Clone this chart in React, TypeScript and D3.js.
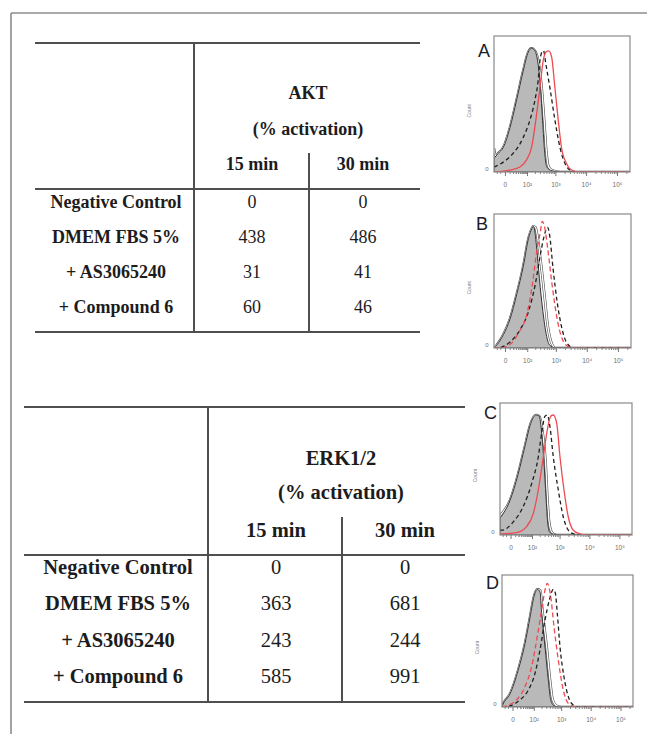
import React, { useEffect, useRef } from "react";
import * as d3 from "d3";

// table contents
const rowLabels = ["Negative Control", "DMEM FBS 5%", "+ AS3065240", "+ Compound 6"];
const timeLabels = ["15 min", "30 min"];
const aktValues15 = [0, 438, 31, 60];
const aktValues30 = [0, 486, 41, 46];
const erkValues15 = [0, 363, 243, 585];
const erkValues30 = [0, 681, 244, 991];

// flow histograms
const panelLetters = ["A", "B", "C", "D"];
const xTicks = [0, 100, 1000, 10000, 100000];
const xTickLabels = ["0", "10²", "10³", "10⁴", "10⁵"];

// [fluorescence, count as % of mode]
const grayA = [[-30, 11], [-16, 15], [-3, 20], [11, 36], [33, 58], [70, 82], [112, 97], [150, 100], [199, 98], [260, 87], [315, 68], [370, 42], [440, 15], [520, 4], [760, 1], [1410, 0], [262144, 0]];
const solidA = [[-30, 19], [-24, 13], [-16, 15], [-3, 20], [11, 36], [33, 58], [70, 82], [112, 97], [150, 100], [199, 98], [275, 87], [345, 68], [420, 42], [505, 15], [600, 4], [850, 1], [1500, 0], [262144, 0]];
const dashA = [[-30, 4], [-3, 8], [20, 15], [70, 28], [130, 42], [199, 58], [260, 74], [300, 90], [352, 97], [400, 98], [482, 87], [657, 68], [964, 42], [1410, 20], [2055, 7], [2990, 1.6], [5000, 0], [262144, 0]];
const redA = [[-30, 0], [11, 1.6], [49, 4], [97, 10], [150, 20], [215, 42], [300, 68], [390, 90], [482, 97], [600, 98], [750, 93], [964, 68], [1240, 42], [1580, 20], [2300, 7], [3400, 1.6], [6300, 0], [262144, 0]];

const grayB = [[-30, 0], [-20, 2.5], [-3, 11], [11, 24], [33, 44], [70, 68], [112, 90], [150, 98], [170, 100], [185, 98], [225, 82], [280, 57], [370, 30], [482, 11], [620, 2.5], [964, 0], [262144, 0]];
const solidB = [[-30, 0], [-20, 2.5], [-3, 11], [11, 24], [33, 44], [70, 68], [112, 90], [150, 98], [170, 100], [203, 99], [300, 74], [416, 44], [535, 19], [700, 5], [964, 0], [262144, 0]];
const dashB = [[-30, 0], [-20, 0], [11, 5], [49, 15], [112, 30], [199, 52], [300, 76], [390, 90], [535, 99], [620, 93], [810, 65], [1100, 38], [1580, 16], [2300, 4], [3800, 0], [262144, 0]];
const redB = [[-30, 0], [-11, 0], [11, 3], [40, 12], [97, 28], [150, 49], [225, 79], [300, 95], [352, 104], [416, 100], [535, 82], [750, 52], [1100, 24], [1580, 8], [2640, 1], [5000, 0], [262144, 0]];

const grayC = [[-30, 14], [-1, 29], [19, 51], [48, 74], [88, 93], [144, 100], [192, 99], [236, 85], [286, 60], [337, 32], [388, 10], [467, 2], [696, 0.5], [1100, 0], [262144, 0]];
const solidC = [[-30, 16], [-1, 29], [19, 51], [48, 74], [88, 93], [144, 100], [192, 99], [257, 85], [328, 60], [375, 32], [441, 10], [549, 2], [800, 0], [262144, 0]];
const dashC = [[-30, 4], [-23, 4], [5.5, 11], [40, 24], [97, 43], [176, 65], [236, 85], [311, 99], [375, 100], [467, 90], [608, 65], [903, 37.5], [1336, 15], [1970, 4], [2900, 1], [4000, 0], [262144, 0]];
const redC = [[-30, 1], [-23, 1], [14, 2], [58, 7], [113, 18], [176, 37.5], [270, 65], [375, 87.5], [494, 99], [608, 100], [797, 93], [1032, 65], [1411, 37.5], [1970, 15], [2900, 4], [4862, 1], [8000, 0], [262144, 0]];

const grayD = [[-30, 0], [-27, 1.7], [-5, 11], [13.5, 31], [39, 53], [69, 75], [102, 92], [139, 98], [176, 96], [204, 78], [271, 50], [356, 22.5], [434, 6], [566, 1], [800, 0], [262144, 0]];
const solidD = [[-30, 0], [-27, 1.7], [-5, 11], [13.5, 31], [39, 53], [69, 75], [102, 92], [139, 98], [180, 97], [223, 78], [312, 50], [410, 22.5], [510, 6], [703, 1], [1000, 0], [262144, 0]];
const dashD = [[-30, 0], [-5, 1], [19, 6], [57, 14], [112, 28], [176, 47.5], [271, 72.5], [387, 89], [535, 98], [629, 95], [737, 78], [914, 50], [1253, 25], [1755, 8.6], [2593, 1.7], [4000, 0], [262144, 0]];
const redD = [[-30, 0], [-13.6, 1], [9, 6], [39, 17], [82, 34], [139, 59], [204, 81], [271, 97.5], [328, 103], [434, 92], [566, 67], [799, 39], [1186, 14], [1755, 3], [3377, 0], [262144, 0]];

const serif = "'Liberation Serif', 'Times New Roman', serif";
const sans = "'Liberation Sans', Arial, 'DejaVu Sans', sans-serif";
const ink = "#1c1c1c";

function App() {
    const ref = useRef(null);

    useEffect(() => {
        document.body.style.margin = "0";
        drawChart();
    }, []);

    function drawChart() {
        const svg = d3.select(ref.current);
        svg.selectAll("*").remove();

        // outer frame (only top and left edges are visible)
        svg.append("line").attr("x1", 11).attr("y1", 13).attr("x2", 647).attr("y2", 13)
            .style("stroke", "#8c8c8c").style("stroke-width", 1.6);
        svg.append("line").attr("x1", 11).attr("y1", 13).attr("x2", 11).attr("y2", 734)
            .style("stroke", "#8c8c8c").style("stroke-width", 1.6);

        const tables = [
            {
                title: "AKT", v15: aktValues15, v30: aktValues30, fontSize: 18,
                left: 35, right: 420, top: 43, headRule: 189, bottom: 332, divider: 194, subDivider: 309, subTop: 153,
                titleX: 308, titleY: 99, subY: 135, timeY: 170, cols: [116, 252, 363], rowY: [208, 313]
            },
            {
                title: "ERK1/2", v15: erkValues15, v30: erkValues30, fontSize: 20.5,
                left: 24, right: 465, top: 407, headRule: 555, bottom: 702, divider: 208, subDivider: 342, subTop: 517,
                titleX: 341, titleY: 465, subY: 499, timeY: 537, cols: [118, 276, 405], rowY: [574, 683]
            }
        ];

        tables.forEach(t => {
            const g = svg.append("g");
            const rowScale = d3.scaleLinear().domain([0, rowLabels.length - 1]).range(t.rowY);
            const col = d3.scaleOrdinal().domain(["label", "15", "30"]).range(t.cols);
            const rule = (x1, y1, x2, y2) => g.append("line")
                .attr("x1", x1).attr("y1", y1).attr("x2", x2).attr("y2", y2)
                .style("stroke", "#4f4f4f").style("stroke-width", 2);
            rule(t.left, t.top, t.right, t.top);
            rule(t.left, t.headRule, t.right, t.headRule);
            rule(t.left, t.bottom, t.right, t.bottom);
            rule(t.divider, t.top, t.divider, t.bottom);
            rule(t.subDivider, t.subTop, t.subDivider, t.bottom);

            const txt = (s, x, y, bold) => g.append("text")
                .attr("x", x).attr("y", y)
                .attr("text-anchor", "middle")
                .style("font-family", serif)
                .style("font-size", t.fontSize + "px")
                .style("font-weight", bold ? "bold" : "normal")
                .style("fill", ink)
                .text(s);

            txt(t.title, t.titleX, t.titleY, true);
            txt("(% activation)", t.titleX, t.subY, true);
            txt(timeLabels[0], col("15"), t.timeY, true);
            txt(timeLabels[1], col("30"), t.timeY, true);

            rowLabels.forEach((r, i) => {
                txt(r, col("label"), rowScale(i), true);
                txt(String(t.v15[i]), col("15"), rowScale(i), false);
                txt(String(t.v30[i]), col("30"), rowScale(i), false);
            });
        });

        const panels = [
            { x: 494, y: 36, w: 136, h: 136, lx: 478, ly: 57, gray: grayA, solid: solidA, dash: dashA, red: redA, redDashed: false },
            { x: 494, y: 214, w: 137, h: 134, lx: 476, ly: 230, gray: grayB, solid: solidB, dash: dashB, red: redB, redDashed: true },
            { x: 500, y: 403, w: 132, h: 132, lx: 484, ly: 419, gray: grayC, solid: solidC, dash: dashC, red: redC, redDashed: false },
            { x: 502, y: 575, w: 131, h: 132, lx: 486, ly: 589, gray: grayD, solid: solidD, dash: dashD, red: redD, redDashed: true }
        ];

        const minorTicks = [];
        for (let k = 1; k <= 5; k++) {
            for (let m = 2; m <= 9; m++) {
                const v = m * Math.pow(10, k);
                if (v < 262144) minorTicks.push(v);
            }
        }
        [10, 20, 30, 40, 50, 60, 70, 80, 90, -10, -20].forEach(v => minorTicks.push(v));

        panels.forEach((p, i) => {
            const x = d3.scaleSymlog().constant(24).domain([-30, 262144]).range([p.x, p.x + p.w]);
            const y = d3.scaleLinear().domain([0, 110]).range([p.y + p.h, p.y]);
            const g = svg.append("g");

            const clipId = "clip" + i;
            g.append("clipPath").attr("id", clipId)
                .append("rect").attr("x", p.x).attr("y", p.y).attr("width", p.w).attr("height", p.h);

            const plot = g.append("g").attr("clip-path", "url(#" + clipId + ")");

            const area = d3.area()
                .x(d => x(d[0]))
                .y0(y(0))
                .y1(d => y(d[1]))
                .curve(d3.curveMonotoneX);
            const line = d3.line()
                .x(d => x(d[0]))
                .y(d => y(d[1]))
                .curve(d3.curveMonotoneX);

            // light sample: white trace with thin dark edges
            plot.append("path").attr("d", line(p.solid))
                .style("fill", "none").style("stroke", "#4a4a4a").style("stroke-width", 2.6);
            plot.append("path").attr("d", line(p.solid))
                .style("fill", "none").style("stroke", "#ffffff").style("stroke-width", 1.4);
            plot.append("path").attr("d", area(p.gray))
                .style("fill", "#b9b9b9").style("stroke", "#333333").style("stroke-width", 1);
            plot.append("path").attr("d", line(p.dash))
                .style("fill", "none").style("stroke", "#1e1e1e").style("stroke-width", 1.3)
                .style("stroke-dasharray", "4,3");
            plot.append("path").attr("d", line(p.red))
                .style("fill", "none").style("stroke", "#ee4a52").style("stroke-width", 1.3)
                .style("stroke-dasharray", p.redDashed ? "5,3" : null);

            g.append("rect").attr("x", p.x).attr("y", p.y).attr("width", p.w).attr("height", p.h)
                .style("fill", "none").style("stroke", "#8a8a8a").style("stroke-width", 1.2);

            // minor ticks
            g.append("g").attr("transform", "translate(0," + (p.y + p.h) + ")")
                .call(d3.axisBottom(x).tickValues(minorTicks).tickSize(2).tickFormat(() => ""))
                .call(a => a.select(".domain").remove())
                .call(a => a.selectAll("line").style("stroke", "#888"));

            // major ticks
            g.append("g").attr("transform", "translate(0," + (p.y + p.h) + ")")
                .call(d3.axisBottom(x).tickValues(xTicks).tickSize(4).tickPadding(6)
                    .tickFormat((d, j) => xTickLabels[j]))
                .call(a => a.select(".domain").remove())
                .call(a => a.selectAll("line").style("stroke", "#777"))
                .call(a => a.selectAll("text")
                    .style("font-family", sans).style("font-size", "6.5px").style("fill", "#707070"));

            g.append("text").attr("x", p.x - 7).attr("y", y(0) - 1)
                .attr("text-anchor", "middle")
                .style("font-family", sans).style("font-size", "6px").style("fill", "#707070")
                .text("0");

            g.append("text")
                .attr("transform", "translate(" + (p.x - 23) + "," + (p.y + p.h * 0.55) + ") rotate(-90)")
                .attr("text-anchor", "middle")
                .style("font-family", sans).style("font-size", "5px").style("fill", "#808080")
                .text("Count");

            g.append("text").attr("x", p.lx).attr("y", p.ly)
                .style("font-family", sans).style("font-size", "18px").style("fill", "#1b1b2a")
                .text(panelLetters[i]);
        });
    }

    return (
        <div style={{ width: 647, height: 734, background: "#fff" }}>
            <svg ref={ref} width={647} height={734} style={{ display: "block" }}></svg>
        </div>
    );
}

export default App;
